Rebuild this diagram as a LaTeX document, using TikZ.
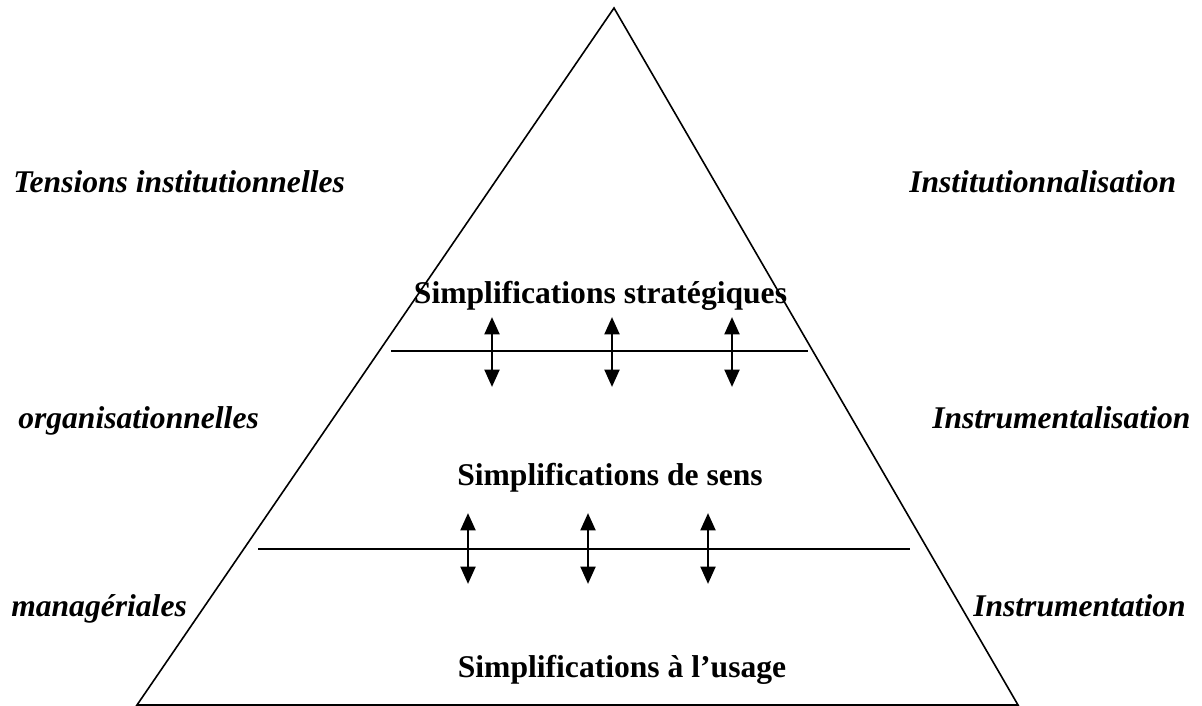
\documentclass[tikz,border=0pt]{standalone}
\usepackage{fontspec}
\setmainfont{Liberation Serif}
\usetikzlibrary{arrows.meta}
\begin{document}
\begin{tikzpicture}[x=0.75pt,y=-0.75pt,
  edge/.style={line width=1.2pt},
  sep/.style={line width=1.4pt},
  dbl/.style={line width=2.2pt,{Triangle[length=13pt,width=11pt]}-{Triangle[length=13pt,width=11pt]}},
  lbl/.style={inner sep=0pt,font=\fontsize{23.7}{28}\selectfont\bfseries\itshape},
  mid/.style={inner sep=0pt,font=\fontsize{23.7}{28}\selectfont\bfseries}]
\useasboundingbox (0,0) rectangle (1202,706);
% triangle
\coordinate (apex) at (614,8);
\coordinate (bl) at (137,705);
\coordinate (br) at (1018,705);
\draw[edge] (apex) -- (bl) -- (br) -- cycle;
% separators
\coordinate (s1l) at (391,351);
\coordinate (s1r) at (808,351);
\coordinate (s2l) at (258,549);
\coordinate (s2r) at (910,549);
\draw[sep] (s1l) -- (s1r);
\draw[sep] (s2l) -- (s2r);
% arrows
\foreach \i/\x in {1/492,2/612,3/732}{
  \coordinate (ua\i) at (\x,317);
  \coordinate (da\i) at (\x,387);
  \draw[dbl] (ua\i) -- (da\i);
}
\foreach \i/\x in {1/468,2/588,3/708}{
  \coordinate (ub\i) at (\x,513);
  \coordinate (db\i) at (\x,584);
  \draw[dbl] (ub\i) -- (db\i);
}
% level texts
\node[mid,anchor=base] (strat) at (600.5,303) {Simplifications stratégiques};
\node[mid,anchor=base] (sens) at (610,485) {Simplifications de sens};
\node[mid,anchor=base] (usage) at (622,677) {Simplifications à l’usage};
% side labels
\node[lbl,anchor=base west] (tens) at (13,192) {Tensions institutionnelles};
\node[lbl,anchor=base west] (org) at (18,428) {organisationnelles};
\node[lbl,anchor=base west] (man) at (11,616) {managériales};
\node[lbl,anchor=base west] (inst) at (909,192) {Institutionnalisation};
\node[lbl,anchor=base west] (instr) at (932,428) {Instrumentalisation};
\node[lbl,anchor=base west] (instn) at (973,616) {Instrumentation};
\end{tikzpicture}
\end{document}
